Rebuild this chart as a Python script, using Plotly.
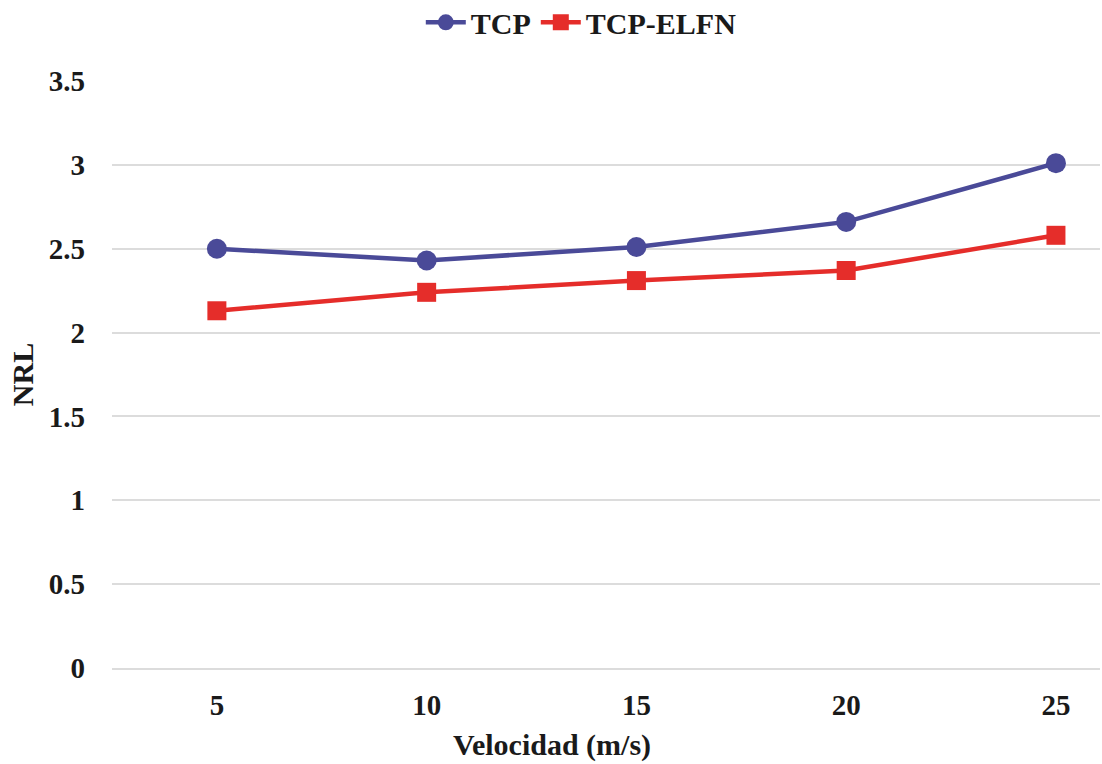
import plotly.graph_objects as go

# Speed categories (m/s) and NRL for each protocol
velocidad = ["5", "10", "15", "20", "25"]
nrl_tcp = [2.50, 2.43, 2.51, 2.66, 3.01]
nrl_tcp_elfn = [2.13, 2.24, 2.31, 2.37, 2.58]

FONT = "Liberation Serif"
BLUE = "#4a4a98"
RED = "#e52d2a"
GRID = "#dcdcdc"

fig = go.Figure()
fig.add_trace(go.Scatter(
    x=velocidad, y=nrl_tcp, name="TCP", mode="lines+markers",
    line=dict(color=BLUE, width=4.5),
    marker=dict(symbol="circle", size=20, color=BLUE),
))
fig.add_trace(go.Scatter(
    x=velocidad, y=nrl_tcp_elfn, name="TCP-ELFN", mode="lines+markers",
    line=dict(color=RED, width=4.5),
    marker=dict(symbol="square", size=19, color=RED),
))

fig.update_layout(
    width=1102, height=764,
    margin=dict(l=112, r=2, t=81, b=96, autoexpand=False),
    paper_bgcolor="white", plot_bgcolor="white",
    font=dict(family=FONT, size=29, color="#1a1a1a"),
    showlegend=True,
    legend=dict(
        orientation="h", x=0.475, xanchor="center", y=1.1, yanchor="middle",
        yref="paper", font=dict(family=FONT, size=30, color="#1a1a1a", weight="bold"),
        itemwidth=40,
    ),
    xaxis=dict(
        type="category", range=[-0.5, 4.21],
        showgrid=False, zeroline=False,
        showline=True, linecolor=GRID, linewidth=1.5,
        ticks="outside", ticklen=0, tickcolor="white",
        ticklabelstandoff=10,
        tickfont=dict(family=FONT, size=29, weight="bold"),
    ),
    yaxis=dict(
        range=[0, 3.5], dtick=0.5, tickformat="~g",
        showgrid=True, gridcolor=GRID, gridwidth=1.5,
        zeroline=False, showline=False,
        ticklabelstandoff=26,
        tickfont=dict(family=FONT, size=29, weight="bold"),
        title=dict(text="<b>NRL</b>", font=dict(family=FONT, size=30), standoff=6),
    ),
)

# x-axis title placed as an annotation below the tick labels
fig.add_annotation(
    text="<b>Velocidad (m/s)</b>", xref="paper", yref="paper",
    x=0.445, y=-0.131, xanchor="center", yanchor="middle",
    showarrow=False, font=dict(family=FONT, size=30, color="#1a1a1a"),
)

fig.write_html("out.html")
